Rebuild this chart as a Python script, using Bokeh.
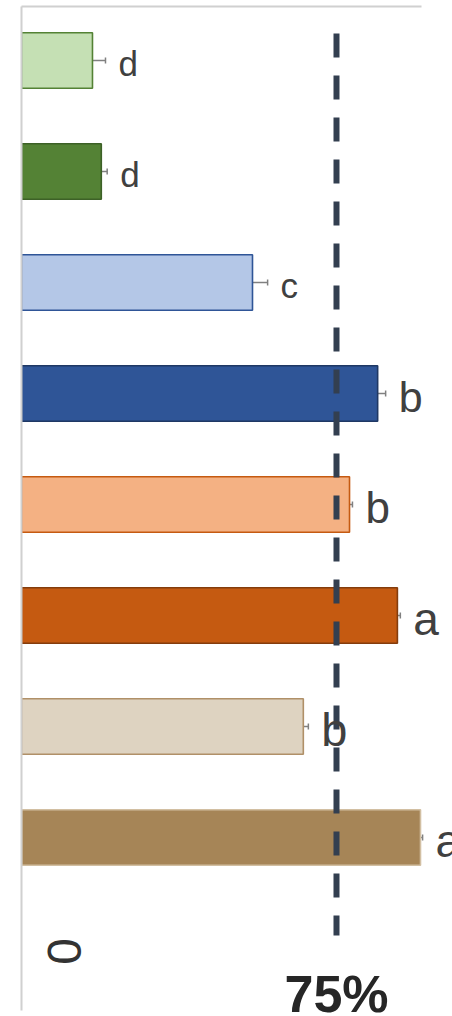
import math
from bokeh.plotting import figure
from bokeh.models import ColumnDataSource, Range1d, LabelSet, Label, Whisker, TeeHead, FixedTicker
from bokeh.core.properties import value
from bokeh.embed import file_html
from bokeh.resources import INLINE

# ---- data (top to bottom) ----
categories = ["G1", "G2", "B1", "B2", "O1", "O2", "T1", "T2"]
values = [16.9, 19.0, 55.0, 84.8, 78.1, 89.5, 67.1, 95.0]
errors = [3.1, 1.4, 3.6, 1.9, 0.7, 0.7, 1.2, 0.5]
letters = ["d", "d", "c", "b", "b", "a", "b", "a"]
threshold = 75
zero_label = "0"

# ---- styles ----
fills = ["#c5e0b4", "#548235", "#b4c7e7", "#2f5597", "#f4b183", "#c55a11", "#ded3c1", "#a68557"]
lines = ["#548235", "#3d6127", "#2f5597", "#1f3864", "#c55a11", "#843c0c", "#b09068", "#d2bfa2"]
label_sizes = ["35px", "35px", "35px", "43px", "44px", "46px", "47px", "46px"]

idx = list(range(len(categories)))
src = ColumnDataSource(dict(
    idx=idx, cat=categories, val=values,
    upper=[v + e for v, e in zip(values, errors)],
    letter=letters, fill=fills, line=lines, size=label_sizes,
))

p = figure(width=452, height=1016, output_backend="svg", toolbar_location=None,
           x_range=Range1d(0, 102.62), y_range=Range1d(8.6126, -0.4865),
           x_axis_location="above", min_border_left=21, min_border_right=0,
           min_border_top=6, min_border_bottom=0)
p.outline_line_color = None
p.grid.visible = False
p.background_fill_color = "white"
p.border_fill_color = "white"

for ax in (p.xaxis[0], p.yaxis[0]):
    ax.ticker = FixedTicker(ticks=[])
    ax.major_tick_line_color = None
    ax.minor_tick_line_color = None
    ax.major_label_text_font_size = "0px"
    ax.axis_line_color = "#d0d0d0"
    ax.axis_line_width = 2
p.xaxis[0].bounds = (0, 95.24)
p.yaxis[0].bounds = (-0.4865, 8.558)

p.hbar(y="idx", left=0, right="val", height=0.5, source=src,
       fill_color="fill", line_color="line", line_width=1.6)

w = Whisker(source=src, base="idx", lower="val", upper="upper", dimension="width",
            line_color="#808080", line_width=1.5,
            upper_head=TeeHead(size=6, line_color="#808080", line_width=1.5),
            lower_head=None)
p.add_layout(w)

p.segment(x0=threshold, x1=threshold, y0=-0.2432, y1=7.883,
          line_color="#333f50", line_width=6, line_dash="24 18")

labels = LabelSet(x="upper", y="idx", text="letter", source=src, x_offset=13, y_offset=-3,
                  text_font=value("Liberation Sans"), text_font_size="size",
                  text_color="#404040", text_baseline="middle", text_align="left")
p.add_layout(labels)

p.add_layout(Label(x=0, y=8.027, x_offset=43, text=zero_label, angle=math.pi / 2,
                   text_font="Liberation Sans", text_font_size="48px",
                   text_color="#333333", text_align="center", text_baseline="middle"))
p.add_layout(Label(x=threshold, y=8.406, text=f"{threshold}%",
                   text_font="Liberation Sans", text_font_size="52px", text_font_style="bold",
                   text_color="#262626", text_align="center", text_baseline="alphabetic"))

open("out.html", "w").write(file_html(p, INLINE))
